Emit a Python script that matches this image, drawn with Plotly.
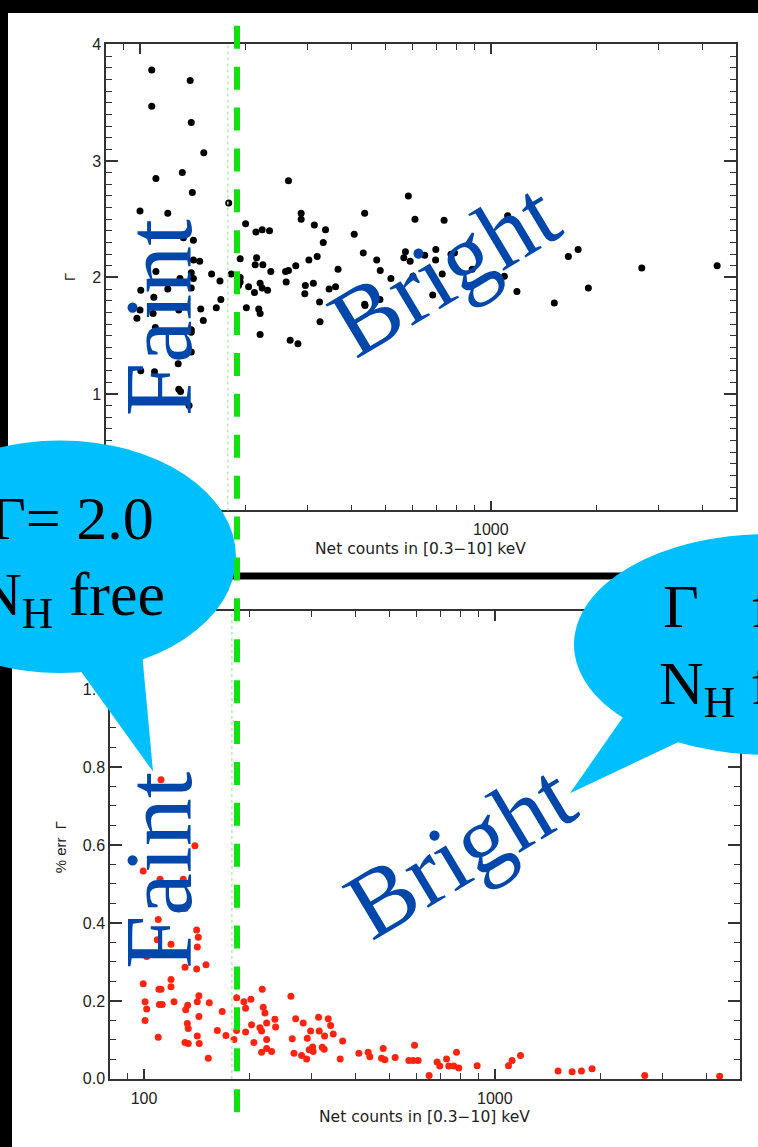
import plotly.graph_objects as go
import math

# ---------------- data ----------------
top_counts = [108, 139, 108, 140, 152, 132, 111, 141, 100, 120, 179, 265, 288, 288, 200, 314, 338, 333,
              408, 437, 433, 473, 214, 223, 234, 142, 193, 215, 213, 224, 236, 260, 265, 278, 303, 320,
              367, 142, 148, 111, 130, 140, 142, 160, 169, 182, 193, 193, 191, 204, 220, 223, 231, 212,
              261, 296, 312, 295, 325, 346, 361, 100.5, 120, 140, 109.5, 170, 100, 98, 109, 129, 149,
              165, 151.5, 201, 218, 220, 110.6, 140, 140, 220, 268, 282, 140, 128.5, 100.5, 110, 129,
              130.5, 138, 326, 437, 582, 608, 736, 1117, 571, 565, 589, 648, 697, 696, 770, 788, 484,
              519, 600, 727, 885, 1093, 1664, 1774, 2694, 4418, 1897, 1187, 1517, 683, 438, 483, 133]
top_gamma = [3.78, 3.69, 3.47, 3.33, 3.07, 2.90, 2.85, 2.73, 2.57, 2.55, 2.64, 2.83, 2.55, 2.50, 2.46, 2.45,
             2.41, 2.30, 2.37, 2.55, 2.21, 2.15, 2.39, 2.41, 2.40, 2.32, 2.16, 2.17, 2.11, 2.11, 2.05, 2.05,
             2.06, 2.10, 2.15, 2.18, 2.07, 2.15, 2.14, 2.05, 1.99, 2.04, 1.99, 2.03, 1.97, 2.03, 2.00, 1.96,
             1.93, 1.92, 1.95, 1.91, 1.89, 1.87, 1.96, 1.93, 1.95, 1.86, 1.79, 1.90, 1.92, 1.89, 1.90, 1.91,
             1.83, 1.81, 1.72, 1.65, 1.69, 1.72, 1.73, 1.74, 1.63, 1.74, 1.73, 1.69, 1.57, 1.55, 1.53, 1.51,
             1.46, 1.43, 1.36, 1.26, 1.20, 1.19, 1.04, 1.02, 0.90, 1.62, 1.77, 2.70, 2.50, 2.49, 2.53, 2.22,
             2.17, 2.14, 2.19, 2.24, 2.15, 2.20, 2.21, 2.06, 1.99, 2.01, 2.03, 2.07, 2.01, 2.18, 2.24, 2.08,
             2.10, 1.91, 1.88, 1.78, 1.85, 1.76, 1.81, 2.34]

bot_counts = [111.8, 139.7, 99.5, 111.1, 129.4, 130.9, 109.8, 141.3, 142.8, 141.9, 119.4, 109.1, 101.8,
              130.9, 141.3, 150.2, 99.5, 119.4, 119.4, 110.3, 111.8, 100.7, 101.8, 110.6, 112.7, 121.8,
              131.5, 133.2, 141.9, 143.4, 153.5, 143.4, 167.1, 100.7, 132.9, 133.7, 109.8, 141.9, 161.8,
              171.2, 130.9, 133.7, 143.7, 152.5, 180.5, 183.7, 183.7, 192.7, 194.8, 201.7, 194.8, 202.6,
              205.7, 217.3, 218.7, 221.2, 214, 216.4, 223.7, 223.7, 236.1, 237.2, 216.4, 223.7, 231.1,
              262.3, 270.6, 264.6, 267.6, 281.4, 290.8, 284.4, 298.5, 292, 295.8, 302.5, 303.6, 314.5,
              315.8, 327.2, 335.1, 340.4, 346.3, 322.1, 326.4, 368.3, 362.5, 409.8, 435.5, 440.4, 480.6,
              475.5, 486, 520, 568.9, 585.1, 604.7, 590.5, 649.9, 684.8, 697, 728.4, 739.4, 764.1, 789.5,
              777.8, 890.6, 1094, 1120, 1184, 1515, 1661, 1766, 1894, 2676, 4375]
bot_err = [0.767, 0.598, 0.533, 0.512, 0.512, 0.437, 0.409, 0.382, 0.363, 0.338, 0.345, 0.357, 0.314,
           0.286, 0.282, 0.293, 0.244, 0.255, 0.236, 0.230, 0.230, 0.198, 0.179, 0.191, 0.191, 0.198,
           0.177, 0.189, 0.198, 0.213, 0.195, 0.160, 0.173, 0.150, 0.142, 0.129, 0.107, 0.110, 0.124,
           0.111, 0.093, 0.091, 0.091, 0.053, 0.101, 0.124, 0.208, 0.198, 0.181, 0.204, 0.120, 0.139,
           0.093, 0.230, 0.184, 0.169, 0.131, 0.123, 0.143, 0.101, 0.153, 0.133, 0.068, 0.078, 0.070,
           0.212, 0.154, 0.103, 0.066, 0.060, 0.051, 0.143, 0.123, 0.104, 0.075, 0.082, 0.070, 0.158,
           0.123, 0.110, 0.154, 0.137, 0.115, 0.081, 0.076, 0.097, 0.051, 0.066, 0.068, 0.057, 0.078,
           0.053, 0.049, 0.055, 0.047, 0.047, 0.047, 0.086, 0.009, 0.043, 0.033, 0.051, 0.033, 0.033,
           0.028, 0.068, 0.034, 0.034, 0.047, 0.060, 0.020, 0.018, 0.020, 0.026, 0.009, 0.007]

threshold = 178  # dividing count level (thin dotted line)
x_ticks = [100, 1000]
x_minor = [90, 200, 300, 400, 500, 600, 700, 800, 900, 2000, 3000, 4000, 5000]
x_range = [80, 5000]
top_yticks = [0, 1, 2, 3, 4]
bot_yticks = [0.0, 0.2, 0.4, 0.6, 0.8, 1.0, 1.2]

# ---------------- layout helpers ----------------
W, H = 758, 1147


def px(x):
    return x / W


def py(y):
    return 1 - y / H


AX = "#333333"
TXT = "#222222"
BLUE = "#0047AB"
BUBBLE = "#00BFFF"
GREEN = "#0ee30e"

fig = go.Figure()
fig.add_trace(go.Scatter(x=top_counts, y=top_gamma, mode="markers", xaxis="x", yaxis="y",
                         marker=dict(color="black", size=7), showlegend=False, hoverinfo="skip"))
fig.add_trace(go.Scatter(x=bot_counts, y=bot_err, mode="markers", xaxis="x2", yaxis="y2",
                         marker=dict(color="#ff2410", size=7), showlegend=False, hoverinfo="skip"))

common_x = dict(type="log", range=[math.log10(x_range[0]), math.log10(x_range[1])],
                tickvals=x_ticks, ticktext=[str(v) for v in x_ticks], ticks="inside", ticklen=10,
                tickwidth=1.5, tickcolor=AX, showline=True, linecolor=AX, linewidth=1.5,
                mirror="allticks", showgrid=False, zeroline=False, ticklabelstandoff=4,
                tickfont=dict(family="Liberation Sans", size=16, color=TXT),
                minor=dict(tickvals=x_minor, ticks="inside", ticklen=6, tickwidth=1.2, tickcolor=AX,
                           showgrid=False))
common_y = dict(ticks="inside", ticklen=12, tickwidth=1.5, tickcolor=AX, showline=True, linecolor=AX,
                linewidth=1.5, mirror="allticks", showgrid=False, zeroline=False,
                tickfont=dict(family="Liberation Sans", size=16, color=TXT))

fig.update_layout(
    width=W, height=H, margin=dict(l=0, r=0, t=0, b=0), autosize=False,
    paper_bgcolor="black", plot_bgcolor="white", showlegend=False,
    xaxis=dict(common_x, domain=[px(106), px(736)], anchor="y"),
    yaxis=dict(common_y, domain=[py(510), py(37)], anchor="x", range=[0, 4], tickvals=top_yticks,
               minor=dict(dtick=0.1, ticks="inside", ticklen=6, tickwidth=1.2, tickcolor=AX, showgrid=False)),
    xaxis2=dict(common_x, domain=[px(110), px(740)], anchor="y2"),
    yaxis2=dict(common_y, domain=[py(1087), py(612)], anchor="x2", range=[0, 1.2], tickvals=bot_yticks,
                tickformat=".1f",
                minor=dict(dtick=0.05, ticks="inside", ticklen=6, tickwidth=1.2, tickcolor=AX, showgrid=False)),
)

shapes = []
# white slide panels (extended past the right/bottom edges so no dark seam remains)
shapes.append(dict(type="rect", xref="paper", yref="paper", x0=px(8), x1=1.05, y0=py(573), y1=py(5),
                   fillcolor="white", line=dict(width=0), layer="below"))
shapes.append(dict(type="rect", xref="paper", yref="paper", x0=px(12), x1=1.05, y0=-0.05, y1=py(580),
                   fillcolor="white", line=dict(width=0), layer="below"))
# thin dotted threshold lines in both panels
for xr, yr in (("x", "y domain"), ("x2", "y2 domain")):
    shapes.append(dict(type="line", xref=xr, yref=yr, x0=threshold, x1=threshold, y0=0, y1=1,
                       line=dict(color="#b5ecb5", width=1.5, dash="dot"), layer="above"))
# speech bubbles
shapes.append(dict(type="circle", xref="paper", yref="paper", x0=px(-116), x1=px(236), y0=py(675), y1=py(439),
                   fillcolor=BUBBLE, line=dict(width=0), layer="above"))
shapes.append(dict(type="path", xref="paper", yref="paper",
                   path=f"M {px(75)} {py(665)} L {px(153)} {py(775)} L {px(142)} {py(654)} Z",
                   fillcolor=BUBBLE, line=dict(width=0), layer="above"))
shapes.append(dict(type="circle", xref="paper", yref="paper", x0=px(574), x1=px(960), y0=py(758), y1=py(534),
                   fillcolor=BUBBLE, line=dict(width=0), layer="above"))
shapes.append(dict(type="path", xref="paper", yref="paper",
                   path=f"M {px(629)} {py(711)} L {px(570)} {py(797)} L {px(687)} {py(741)} Z",
                   fillcolor=BUBBLE, line=dict(width=0), layer="above"))
# thick green dashed divider
shapes.append(dict(type="line", xref="paper", yref="paper", x0=px(237), x1=px(237), y0=py(18), y1=py(1128),
                   line=dict(color=GREEN, width=6, dash="23px,17.9px"), layer="above"))
fig.update_layout(shapes=shapes)

ann = []


def add_text(text, x, y, size, color, family, xanchor="center", yanchor="middle", angle=0):
    ann.append(dict(text=text, x=px(x), y=py(y), xref="paper", yref="paper", showarrow=False,
                    xanchor=xanchor, yanchor=yanchor, textangle=angle, borderpad=0, borderwidth=0,
                    font=dict(size=size, color=color, family=family)))


# axis titles
add_text("Net counts in [0.3\u221210] keV", 420, 549, 15.5, TXT, "DejaVu Sans")
add_text("Net counts in [0.3\u221210] keV", 424, 1126, 15.5, TXT, "DejaVu Sans")
add_text("\u0393", 70, 273, 15, TXT, "Liberation Sans", angle=-90)
add_text("% err  \u0393", 60, 852, 15, TXT, "Liberation Sans", angle=-90)
# Faint / Bright labels
add_text("Faint", 158, 314, 96, BLUE, "Liberation Serif", angle=-90)
add_text("Faint", 158, 875, 96, BLUE, "Liberation Serif", angle=-90)
add_text("Bright", 444, 264, 96, BLUE, "Liberation Serif", angle=-31)
add_text("Bright", 460, 855, 96, BLUE, "Liberation Serif", angle=-31)
# bubble texts
add_text("\u0393= 2.0", 154, 483, 62, "black", "Liberation Serif", xanchor="right", yanchor="top")
add_text("N<sub>H</sub> free", 165, 560, 62, "black", "Liberation Serif", xanchor="right", yanchor="top")
add_text("\u0393", 663, 572, 62, "black", "Liberation Serif", xanchor="left", yanchor="top")
add_text("free", 751, 572, 62, "black", "Liberation Serif", xanchor="left", yanchor="top")
add_text("N<sub>H</sub> free", 659, 651, 62, "black", "Liberation Serif", xanchor="left", yanchor="top")
fig.update_layout(annotations=ann)

post = (
    "var h=document.documentElement.style;h.margin='0';h.padding='0';h.overflow='hidden';h.background='white';"
    "var b=document.body.style;b.margin='0';b.padding='0';b.overflow='hidden';b.background='white';"
    "var g=document.getElementById('{plot_id}');g.style.position='absolute';g.style.left='0px';g.style.top='0px';"
)
fig.write_html("out.html", config={"displayModeBar": False}, post_script=post)
